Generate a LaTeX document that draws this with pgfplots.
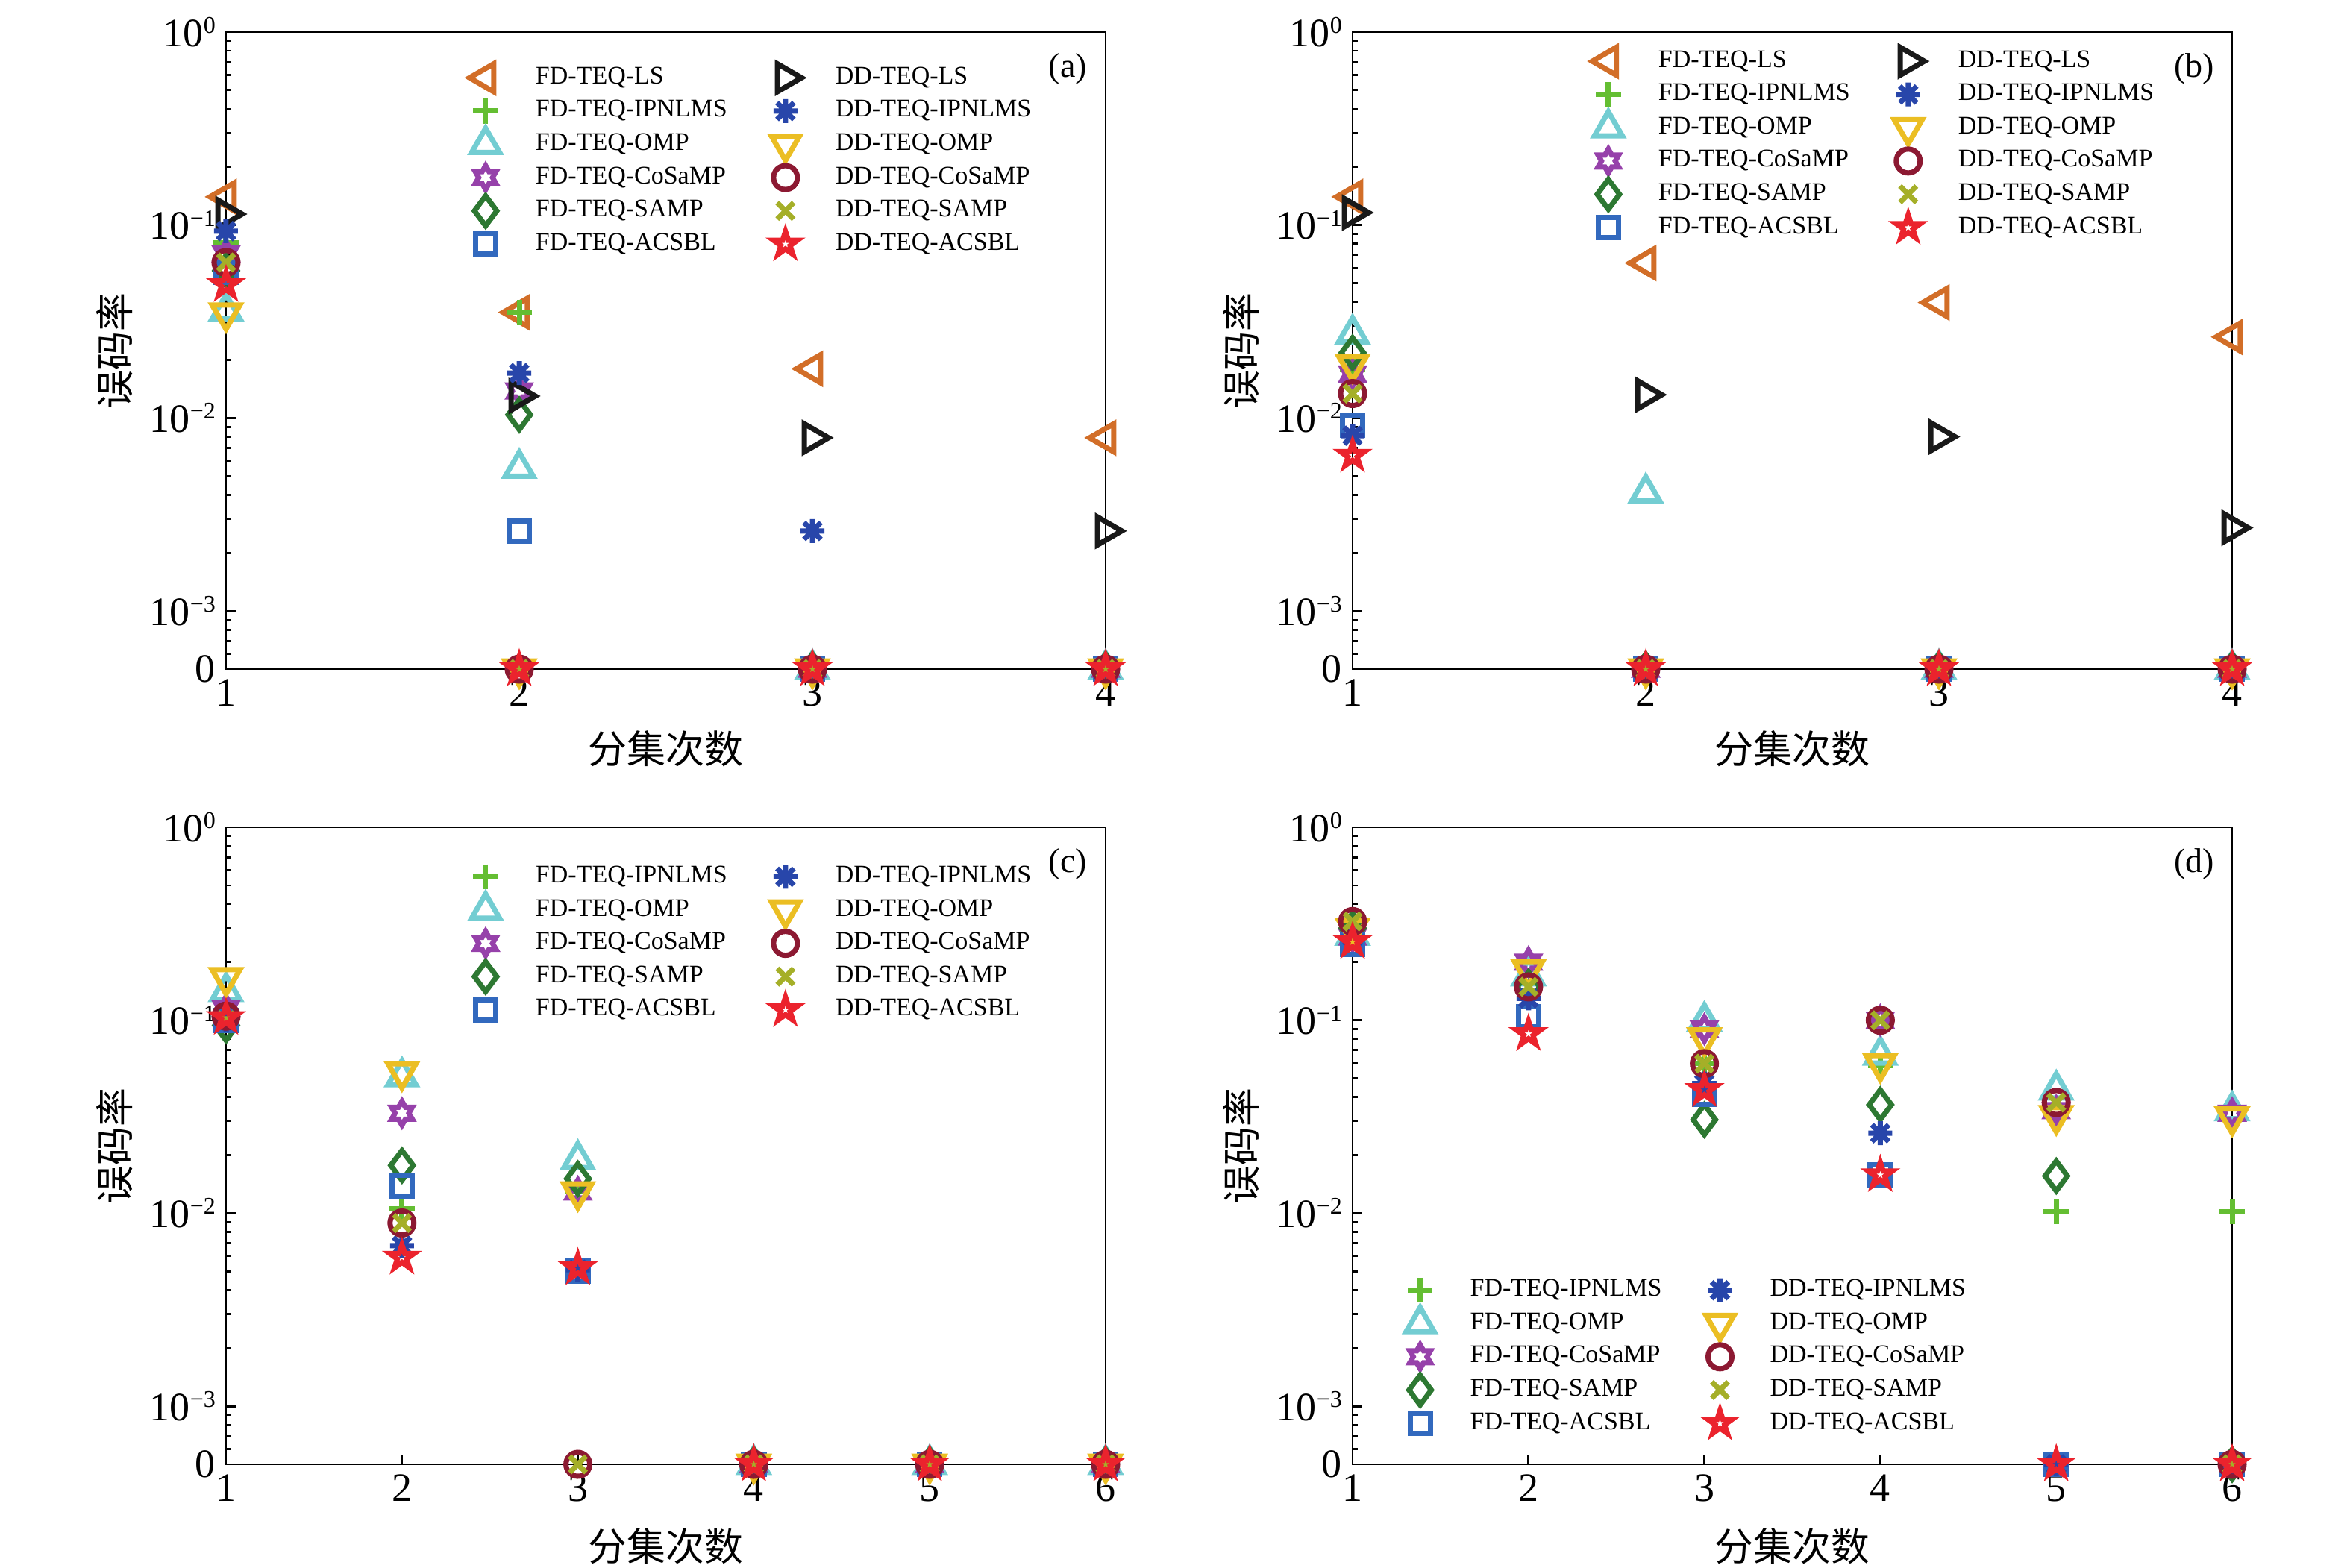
\documentclass[border=0pt]{standalone}
\usepackage{fontspec}
\setmainfont{Liberation Serif}
\newfontfamily\cjk{Noto Sans CJK SC}
\usepackage{pgfplots}
\pgfplotsset{compat=1.18}

\definecolor{cFDLS}{RGB}{210,110,40}
\definecolor{cFDIP}{RGB}{100,190,50}
\definecolor{cFDOMP}{RGB}{115,205,210}
\definecolor{cFDCo}{RGB}{150,65,170}
\definecolor{cFDSA}{RGB}{45,120,50}
\definecolor{cFDAC}{RGB}{50,105,190}
\definecolor{cDDLS}{RGB}{25,25,25}
\definecolor{cDDIP}{RGB}{40,70,170}
\definecolor{cDDOMP}{RGB}{235,190,35}
\definecolor{cDDCo}{RGB}{140,25,50}
\definecolor{cDDSA}{RGB}{165,175,40}
\definecolor{cDDAC}{RGB}{235,35,45}

\pgfdeclareplotmark{mpent}{%
  \pgfpathmoveto{\pgfpointpolar{90}{\pgfplotmarksize}}%
  \pgfpathlineto{\pgfpointpolar{126}{0.382\pgfplotmarksize}}%
  \pgfpathlineto{\pgfpointpolar{162}{\pgfplotmarksize}}%
  \pgfpathlineto{\pgfpointpolar{198}{0.382\pgfplotmarksize}}%
  \pgfpathlineto{\pgfpointpolar{234}{\pgfplotmarksize}}%
  \pgfpathlineto{\pgfpointpolar{270}{0.382\pgfplotmarksize}}%
  \pgfpathlineto{\pgfpointpolar{306}{\pgfplotmarksize}}%
  \pgfpathlineto{\pgfpointpolar{342}{0.382\pgfplotmarksize}}%
  \pgfpathlineto{\pgfpointpolar{18}{\pgfplotmarksize}}%
  \pgfpathlineto{\pgfpointpolar{54}{0.382\pgfplotmarksize}}%
  \pgfpathclose\pgfusepathqstroke}
\pgfdeclareplotmark{mhex}{%
  \pgfpathmoveto{\pgfpointpolar{90}{\pgfplotmarksize}}%
  \pgfpathlineto{\pgfpointpolar{120}{0.577\pgfplotmarksize}}%
  \pgfpathlineto{\pgfpointpolar{150}{\pgfplotmarksize}}%
  \pgfpathlineto{\pgfpointpolar{180}{0.577\pgfplotmarksize}}%
  \pgfpathlineto{\pgfpointpolar{210}{\pgfplotmarksize}}%
  \pgfpathlineto{\pgfpointpolar{240}{0.577\pgfplotmarksize}}%
  \pgfpathlineto{\pgfpointpolar{270}{\pgfplotmarksize}}%
  \pgfpathlineto{\pgfpointpolar{300}{0.577\pgfplotmarksize}}%
  \pgfpathlineto{\pgfpointpolar{330}{\pgfplotmarksize}}%
  \pgfpathlineto{\pgfpointpolar{0}{0.577\pgfplotmarksize}}%
  \pgfpathlineto{\pgfpointpolar{30}{\pgfplotmarksize}}%
  \pgfpathlineto{\pgfpointpolar{60}{0.577\pgfplotmarksize}}%
  \pgfpathclose\pgfusepathqstroke}
\pgfdeclareplotmark{mast}{%
  \pgfpathmoveto{\pgfpointpolar{90}{\pgfplotmarksize}}\pgfpathlineto{\pgfpointpolar{270}{\pgfplotmarksize}}%
  \pgfpathmoveto{\pgfpointpolar{0}{\pgfplotmarksize}}\pgfpathlineto{\pgfpointpolar{180}{\pgfplotmarksize}}%
  \pgfpathmoveto{\pgfpointpolar{45}{\pgfplotmarksize}}\pgfpathlineto{\pgfpointpolar{225}{\pgfplotmarksize}}%
  \pgfpathmoveto{\pgfpointpolar{135}{\pgfplotmarksize}}\pgfpathlineto{\pgfpointpolar{315}{\pgfplotmarksize}}%
  \pgfusepathqstroke}

\newcommand{\tp}[1]{10\raisebox{4.4pt}{\fontsize{8pt}{8pt}\selectfont #1}}

\tikzset{
  sFDLS/.style={color=cFDLS, mark=triangle, mark size=5.4pt, mark options={rotate=90, line width=1.75pt, solid}},
  sFDIP/.style={color=cFDIP, mark=+, mark size=4.2pt, mark options={line width=1.75pt, solid}},
  sFDOMP/.style={color=cFDOMP, mark=triangle, mark size=5.4pt, mark options={line width=1.75pt, solid}},
  sFDCo/.style={color=cFDCo, mark=mhex, mark size=4pt, mark options={line width=1.75pt, solid}},
  sFDSA/.style={color=cFDSA, mark=diamond, mark size=5pt, mark options={line width=1.75pt, solid}},
  sFDAC/.style={color=cFDAC, mark=square, mark size=3.4pt, mark options={line width=1.75pt, solid}},
  sDDLS/.style={color=cDDLS, mark=triangle, mark size=5.4pt, mark options={rotate=-90, line width=1.75pt, solid}},
  sDDIP/.style={color=cDDIP, mark=mast, mark size=4pt, mark options={line width=1.75pt, solid}},
  sDDOMP/.style={color=cDDOMP, mark=triangle, mark size=5.4pt, mark options={rotate=180, line width=1.75pt, solid}},
  sDDCo/.style={color=cDDCo, mark=o, mark size=4pt, mark options={line width=1.75pt, solid}},
  sDDSA/.style={color=cDDSA, mark=x, mark size=3.9pt, mark options={line width=1.75pt, solid}},
  sDDAC/.style={color=cDDAC, mark=mpent, mark size=4.25pt, mark options={line width=1.75pt, solid}},
}

\begin{document}
\begin{tikzpicture}
\path[use as bounding box] (0pt,0pt) rectangle (787.5pt,525.25pt);

% ---------------- (a)
\begin{axis}[at={(75.75pt,301pt)}, anchor=south west,
    scale only axis, width=294.75pt, height=213.5pt,
    ymode=log, ymin=5e-4, ymax=1,
    ytick={5e-4,1e-3,1e-2,1e-1,1},
    yticklabels={0,\tp{−3},\tp{−2},\tp{−1},\tp{0}},
    minor ytick={6e-4,7e-4,8e-4,9e-4,2e-3,3e-3,4e-3,5e-3,6e-3,7e-3,8e-3,9e-3,2e-2,3e-2,4e-2,5e-2,6e-2,7e-2,8e-2,9e-2,0.2,0.3,0.4,0.5,0.6,0.7,0.8,0.9},
    tick align=inside, xtick pos=left, ytick pos=left,
    major tick length=3.25pt, minor tick length=1.75pt,
    axis line style={line width=0.7pt, black},
    every tick/.style={black, line width=0.7pt},
    tick label style={font=\fontsize{13.5pt}{14pt}\selectfont},
    label style={font=\fontsize{13pt}{14pt}\cjk},
    xlabel={分集次数}, ylabel={误码率},
    xlabel style={at={(axis description cs:0.5,-0.125)}, anchor=center},
    ylabel style={at={(axis description cs:-0.127,0.5)}, anchor=center},
    clip=false,
    legend columns=2, legend cell align=left,
    legend style={draw=none, fill=none, inner sep=0pt, outer sep=0pt, anchor=north west,
      font=\fontsize{8.5pt}{9pt}\selectfont,
      nodes={inner sep=0pt, text height=6pt, text depth=2pt},
      row sep=3.15pt, column sep=0pt,
      /tikz/every even column/.append style={column sep=11pt}},
    legend image code/.code={%
      \begin{pgfinterruptboundingbox}%
        \draw[#1] plot coordinates {(8.5pt,0pt)};%
      \end{pgfinterruptboundingbox}%
      \path[draw=none, fill=none] (0pt,-1pt) rectangle (25.25pt,1pt);%
    },
    xmin=1, xmax=4, xtick={1,2,3,4}, xticklabels={1,2,3,4},
    legend style={at={(axis description cs:0.2663,0.947)}}]
\addlegendimage{sFDLS}\addlegendentry{FD-TEQ-LS}
\addlegendimage{sDDLS}\addlegendentry{DD-TEQ-LS}
\addlegendimage{sFDIP}\addlegendentry{FD-TEQ-IPNLMS}
\addlegendimage{sDDIP}\addlegendentry{DD-TEQ-IPNLMS}
\addlegendimage{sFDOMP}\addlegendentry{FD-TEQ-OMP}
\addlegendimage{sDDOMP}\addlegendentry{DD-TEQ-OMP}
\addlegendimage{sFDCo}\addlegendentry{FD-TEQ-CoSaMP}
\addlegendimage{sDDCo}\addlegendentry{DD-TEQ-CoSaMP}
\addlegendimage{sFDSA}\addlegendentry{FD-TEQ-SAMP}
\addlegendimage{sDDSA}\addlegendentry{DD-TEQ-SAMP}
\addlegendimage{sFDAC}\addlegendentry{FD-TEQ-ACSBL}
\addlegendimage{sDDAC}\addlegendentry{DD-TEQ-ACSBL}
\addplot[sFDLS, only marks, forget plot] coordinates {(1,0.14) (2,0.0353) (3,0.018) (4,0.0079)};
\addplot[sFDIP, only marks, forget plot] coordinates {(1,0.081) (2,0.0353) (3,5e-4) (4,5e-4)};
\addplot[sFDOMP, only marks, forget plot] coordinates {(1,0.036) (2,0.0055) (3,5e-4) (4,5e-4)};
\addplot[sFDCo, only marks, forget plot] coordinates {(1,0.071) (2,0.0138) (3,5e-4) (4,5e-4)};
\addplot[sFDSA, only marks, forget plot] coordinates {(1,0.058) (2,0.0104) (3,5e-4) (4,5e-4)};
\addplot[sFDAC, only marks, forget plot] coordinates {(1,0.057) (2,0.0026) (3,5e-4) (4,5e-4)};
\addplot[sDDLS, only marks, forget plot] coordinates {(1,0.114) (2,0.013) (3,0.0079) (4,0.0026)};
\addplot[sDDIP, only marks, forget plot] coordinates {(1,0.093) (2,0.0171) (3,0.0026) (4,5e-4)};
\addplot[sDDOMP, only marks, forget plot] coordinates {(1,0.035) (2,5e-4) (3,5e-4) (4,5e-4)};
\addplot[sDDCo, only marks, forget plot] coordinates {(1,0.064) (2,5e-4) (3,5e-4) (4,5e-4)};
\addplot[sDDSA, only marks, forget plot] coordinates {(1,0.064) (2,5e-4) (3,5e-4) (4,5e-4)};
\addplot[sDDAC, only marks, forget plot] coordinates {(1,0.049) (2,5e-4) (3,5e-4) (4,5e-4)};
\node[font=\fontsize{11.5pt}{12pt}\selectfont] at (rel axis cs:0.957,0.942) {(a)};
\end{axis}

% ---------------- (b)
\begin{axis}[at={(453.25pt,301pt)}, anchor=south west,
    scale only axis, width=294.75pt, height=213.5pt,
    ymode=log, ymin=5e-4, ymax=1,
    ytick={5e-4,1e-3,1e-2,1e-1,1},
    yticklabels={0,\tp{−3},\tp{−2},\tp{−1},\tp{0}},
    minor ytick={6e-4,7e-4,8e-4,9e-4,2e-3,3e-3,4e-3,5e-3,6e-3,7e-3,8e-3,9e-3,2e-2,3e-2,4e-2,5e-2,6e-2,7e-2,8e-2,9e-2,0.2,0.3,0.4,0.5,0.6,0.7,0.8,0.9},
    tick align=inside, xtick pos=left, ytick pos=left,
    major tick length=3.25pt, minor tick length=1.75pt,
    axis line style={line width=0.7pt, black},
    every tick/.style={black, line width=0.7pt},
    tick label style={font=\fontsize{13.5pt}{14pt}\selectfont},
    label style={font=\fontsize{13pt}{14pt}\cjk},
    xlabel={分集次数}, ylabel={误码率},
    xlabel style={at={(axis description cs:0.5,-0.125)}, anchor=center},
    ylabel style={at={(axis description cs:-0.127,0.5)}, anchor=center},
    clip=false,
    legend columns=2, legend cell align=left,
    legend style={draw=none, fill=none, inner sep=0pt, outer sep=0pt, anchor=north west,
      font=\fontsize{8.5pt}{9pt}\selectfont,
      nodes={inner sep=0pt, text height=6pt, text depth=2pt},
      row sep=3.15pt, column sep=0pt,
      /tikz/every even column/.append style={column sep=11pt}},
    legend image code/.code={%
      \begin{pgfinterruptboundingbox}%
        \draw[#1] plot coordinates {(8.5pt,0pt)};%
      \end{pgfinterruptboundingbox}%
      \path[draw=none, fill=none] (0pt,-1pt) rectangle (25.25pt,1pt);%
    },
    xmin=1, xmax=4, xtick={1,2,3,4}, xticklabels={1,2,3,4},
    legend style={at={(axis description cs:0.262,0.973)}}]
\addlegendimage{sFDLS}\addlegendentry{FD-TEQ-LS}
\addlegendimage{sDDLS}\addlegendentry{DD-TEQ-LS}
\addlegendimage{sFDIP}\addlegendentry{FD-TEQ-IPNLMS}
\addlegendimage{sDDIP}\addlegendentry{DD-TEQ-IPNLMS}
\addlegendimage{sFDOMP}\addlegendentry{FD-TEQ-OMP}
\addlegendimage{sDDOMP}\addlegendentry{DD-TEQ-OMP}
\addlegendimage{sFDCo}\addlegendentry{FD-TEQ-CoSaMP}
\addlegendimage{sDDCo}\addlegendentry{DD-TEQ-CoSaMP}
\addlegendimage{sFDSA}\addlegendentry{FD-TEQ-SAMP}
\addlegendimage{sDDSA}\addlegendentry{DD-TEQ-SAMP}
\addlegendimage{sFDAC}\addlegendentry{FD-TEQ-ACSBL}
\addlegendimage{sDDAC}\addlegendentry{DD-TEQ-ACSBL}
\addplot[sFDLS, only marks, forget plot] coordinates {(1,0.14) (2,0.0636) (3,0.0397) (4,0.0263)};
\addplot[sFDIP, only marks, forget plot] coordinates {(1,0.0178) (2,5e-4) (3,5e-4) (4,5e-4)};
\addplot[sFDOMP, only marks, forget plot] coordinates {(1,0.0273) (2,0.0041) (3,5e-4) (4,5e-4)};
\addplot[sFDCo, only marks, forget plot] coordinates {(1,0.0169) (2,5e-4) (3,5e-4) (4,5e-4)};
\addplot[sFDSA, only marks, forget plot] coordinates {(1,0.0218) (2,5e-4) (3,5e-4) (4,5e-4)};
\addplot[sFDAC, only marks, forget plot] coordinates {(1,0.0092) (2,5e-4) (3,5e-4) (4,5e-4)};
\addplot[sDDLS, only marks, forget plot] coordinates {(1,0.116) (2,0.0132) (3,0.0080) (4,0.0027)};
\addplot[sDDIP, only marks, forget plot] coordinates {(1,0.0081) (2,5e-4) (3,5e-4) (4,5e-4)};
\addplot[sDDOMP, only marks, forget plot] coordinates {(1,0.019) (2,5e-4) (3,5e-4) (4,5e-4)};
\addplot[sDDCo, only marks, forget plot] coordinates {(1,0.0134) (2,5e-4) (3,5e-4) (4,5e-4)};
\addplot[sDDSA, only marks, forget plot] coordinates {(1,0.0134) (2,5e-4) (3,5e-4) (4,5e-4)};
\addplot[sDDAC, only marks, forget plot] coordinates {(1,0.0064) (2,5e-4) (3,5e-4) (4,5e-4)};
\node[font=\fontsize{11.5pt}{12pt}\selectfont] at (rel axis cs:0.957,0.942) {(b)};
\end{axis}

% ---------------- (c)
\begin{axis}[at={(75.75pt,34.5pt)}, anchor=south west,
    scale only axis, width=294.75pt, height=213.5pt,
    ymode=log, ymin=5e-4, ymax=1,
    ytick={5e-4,1e-3,1e-2,1e-1,1},
    yticklabels={0,\tp{−3},\tp{−2},\tp{−1},\tp{0}},
    minor ytick={6e-4,7e-4,8e-4,9e-4,2e-3,3e-3,4e-3,5e-3,6e-3,7e-3,8e-3,9e-3,2e-2,3e-2,4e-2,5e-2,6e-2,7e-2,8e-2,9e-2,0.2,0.3,0.4,0.5,0.6,0.7,0.8,0.9},
    tick align=inside, xtick pos=left, ytick pos=left,
    major tick length=3.25pt, minor tick length=1.75pt,
    axis line style={line width=0.7pt, black},
    every tick/.style={black, line width=0.7pt},
    tick label style={font=\fontsize{13.5pt}{14pt}\selectfont},
    label style={font=\fontsize{13pt}{14pt}\cjk},
    xlabel={分集次数}, ylabel={误码率},
    xlabel style={at={(axis description cs:0.5,-0.129)}, anchor=center},
    ylabel style={at={(axis description cs:-0.127,0.5)}, anchor=center},
    clip=false,
    legend columns=2, legend cell align=left,
    legend style={draw=none, fill=none, inner sep=0pt, outer sep=0pt, anchor=north west,
      font=\fontsize{8.5pt}{9pt}\selectfont,
      nodes={inner sep=0pt, text height=6pt, text depth=2pt},
      row sep=3.15pt, column sep=0pt,
      /tikz/every even column/.append style={column sep=11pt}},
    legend image code/.code={%
      \begin{pgfinterruptboundingbox}%
        \draw[#1] plot coordinates {(8.5pt,0pt)};%
      \end{pgfinterruptboundingbox}%
      \path[draw=none, fill=none] (0pt,-1pt) rectangle (25.25pt,1pt);%
    },
    xmin=1, xmax=6, xtick={1,2,3,4,5,6}, xticklabels={1,2,3,4,5,6},
    legend style={at={(axis description cs:0.2663,0.941)}}]
\addlegendimage{sFDIP}\addlegendentry{FD-TEQ-IPNLMS}
\addlegendimage{sDDIP}\addlegendentry{DD-TEQ-IPNLMS}
\addlegendimage{sFDOMP}\addlegendentry{FD-TEQ-OMP}
\addlegendimage{sDDOMP}\addlegendentry{DD-TEQ-OMP}
\addlegendimage{sFDCo}\addlegendentry{FD-TEQ-CoSaMP}
\addlegendimage{sDDCo}\addlegendentry{DD-TEQ-CoSaMP}
\addlegendimage{sFDSA}\addlegendentry{FD-TEQ-SAMP}
\addlegendimage{sDDSA}\addlegendentry{DD-TEQ-SAMP}
\addlegendimage{sFDAC}\addlegendentry{FD-TEQ-ACSBL}
\addlegendimage{sDDAC}\addlegendentry{DD-TEQ-ACSBL}
\addplot[sFDIP, only marks, forget plot] coordinates {(1,0.1) (2,0.0105) (3,0.013) (4,5e-4) (5,5e-4) (6,5e-4)};
\addplot[sFDOMP, only marks, forget plot] coordinates {(1,0.141) (2,0.051) (3,0.019) (4,5e-4) (5,5e-4) (6,5e-4)};
\addplot[sFDCo, only marks, forget plot] coordinates {(1,0.115) (2,0.033) (3,0.0129) (4,5e-4) (5,5e-4) (6,5e-4)};
\addplot[sFDSA, only marks, forget plot] coordinates {(1,0.094) (2,0.0177) (3,0.0151) (4,5e-4) (5,5e-4) (6,5e-4)};
\addplot[sFDAC, only marks, forget plot] coordinates {(1,0.1) (2,0.0139) (3,0.005) (4,5e-4) (5,5e-4) (6,5e-4)};
\addplot[sDDIP, only marks, forget plot] coordinates {(1,0.1) (2,0.0068) (3,0.0051) (4,5e-4) (5,5e-4) (6,5e-4)};
\addplot[sDDOMP, only marks, forget plot] coordinates {(1,0.166) (2,0.054) (3,0.0129) (4,5e-4) (5,5e-4) (6,5e-4)};
\addplot[sDDCo, only marks, forget plot] coordinates {(1,0.105) (2,0.0089) (3,5e-4) (4,5e-4) (5,5e-4) (6,5e-4)};
\addplot[sDDSA, only marks, forget plot] coordinates {(1,0.1) (2,0.0089) (3,5e-4) (4,5e-4) (5,5e-4) (6,5e-4)};
\addplot[sDDAC, only marks, forget plot] coordinates {(1,0.103) (2,0.0059) (3,0.0052) (4,5e-4) (5,5e-4) (6,5e-4)};
\node[font=\fontsize{11.5pt}{12pt}\selectfont] at (rel axis cs:0.957,0.942) {(c)};
\end{axis}

% ---------------- (d)
\begin{axis}[at={(453.25pt,34.5pt)}, anchor=south west,
    scale only axis, width=294.75pt, height=213.5pt,
    ymode=log, ymin=5e-4, ymax=1,
    ytick={5e-4,1e-3,1e-2,1e-1,1},
    yticklabels={0,\tp{−3},\tp{−2},\tp{−1},\tp{0}},
    minor ytick={6e-4,7e-4,8e-4,9e-4,2e-3,3e-3,4e-3,5e-3,6e-3,7e-3,8e-3,9e-3,2e-2,3e-2,4e-2,5e-2,6e-2,7e-2,8e-2,9e-2,0.2,0.3,0.4,0.5,0.6,0.7,0.8,0.9},
    tick align=inside, xtick pos=left, ytick pos=left,
    major tick length=3.25pt, minor tick length=1.75pt,
    axis line style={line width=0.7pt, black},
    every tick/.style={black, line width=0.7pt},
    tick label style={font=\fontsize{13.5pt}{14pt}\selectfont},
    label style={font=\fontsize{13pt}{14pt}\cjk},
    xlabel={分集次数}, ylabel={误码率},
    xlabel style={at={(axis description cs:0.5,-0.129)}, anchor=center},
    ylabel style={at={(axis description cs:-0.127,0.5)}, anchor=center},
    clip=false,
    legend columns=2, legend cell align=left,
    legend style={draw=none, fill=none, inner sep=0pt, outer sep=0pt, anchor=north west,
      font=\fontsize{8.5pt}{9pt}\selectfont,
      nodes={inner sep=0pt, text height=6pt, text depth=2pt},
      row sep=3.15pt, column sep=0pt,
      /tikz/every even column/.append style={column sep=11pt}},
    legend image code/.code={%
      \begin{pgfinterruptboundingbox}%
        \draw[#1] plot coordinates {(8.5pt,0pt)};%
      \end{pgfinterruptboundingbox}%
      \path[draw=none, fill=none] (0pt,-1pt) rectangle (25.25pt,1pt);%
    },
    xmin=1, xmax=6, xtick={1,2,3,4,5,6}, xticklabels={1,2,3,4,5,6},
    legend style={at={(axis description cs:0.048,0.292)}}]
\addlegendimage{sFDIP}\addlegendentry{FD-TEQ-IPNLMS}
\addlegendimage{sDDIP}\addlegendentry{DD-TEQ-IPNLMS}
\addlegendimage{sFDOMP}\addlegendentry{FD-TEQ-OMP}
\addlegendimage{sDDOMP}\addlegendentry{DD-TEQ-OMP}
\addlegendimage{sFDCo}\addlegendentry{FD-TEQ-CoSaMP}
\addlegendimage{sDDCo}\addlegendentry{DD-TEQ-CoSaMP}
\addlegendimage{sFDSA}\addlegendentry{FD-TEQ-SAMP}
\addlegendimage{sDDSA}\addlegendentry{DD-TEQ-SAMP}
\addlegendimage{sFDAC}\addlegendentry{FD-TEQ-ACSBL}
\addlegendimage{sDDAC}\addlegendentry{DD-TEQ-ACSBL}
\addplot[sFDIP, only marks, forget plot] coordinates {(1,0.28) (2,0.14) (3,0.06) (4,0.058) (5,0.0102) (6,0.0102)};
\addplot[sFDOMP, only marks, forget plot] coordinates {(1,0.276) (2,0.17) (3,0.099) (4,0.066) (5,0.0436) (6,0.034)};
\addplot[sFDCo, only marks, forget plot] coordinates {(1,0.27) (2,0.2) (3,0.09) (4,0.1) (5,0.034) (6,0.033)};
\addplot[sFDSA, only marks, forget plot] coordinates {(1,0.3) (2,0.149) (3,0.0305) (4,0.0365) (5,0.0156) (6,5e-4)};
\addplot[sFDAC, only marks, forget plot] coordinates {(1,0.248) (2,0.104) (3,0.0415) (4,0.0158) (5,5e-4) (6,5e-4)};
\addplot[sDDIP, only marks, forget plot] coordinates {(1,0.27) (2,0.13) (3,0.047) (4,0.026) (5,5e-4) (6,5e-4)};
\addplot[sDDOMP, only marks, forget plot] coordinates {(1,0.30) (2,0.183) (3,0.081) (4,0.0596) (5,0.032) (6,0.0315)};
\addplot[sDDCo, only marks, forget plot] coordinates {(1,0.325) (2,0.149) (3,0.0596) (4,0.1) (5,0.0375) (6,5e-4)};
\addplot[sDDSA, only marks, forget plot] coordinates {(1,0.325) (2,0.149) (3,0.0596) (4,0.1) (5,0.0375) (6,5e-4)};
\addplot[sDDAC, only marks, forget plot] coordinates {(1,0.255) (2,0.085) (3,0.0436) (4,0.0158) (5,5e-4) (6,5e-4)};
\node[font=\fontsize{11.5pt}{12pt}\selectfont] at (rel axis cs:0.957,0.942) {(d)};
\end{axis}
\end{tikzpicture}
\end{document}
